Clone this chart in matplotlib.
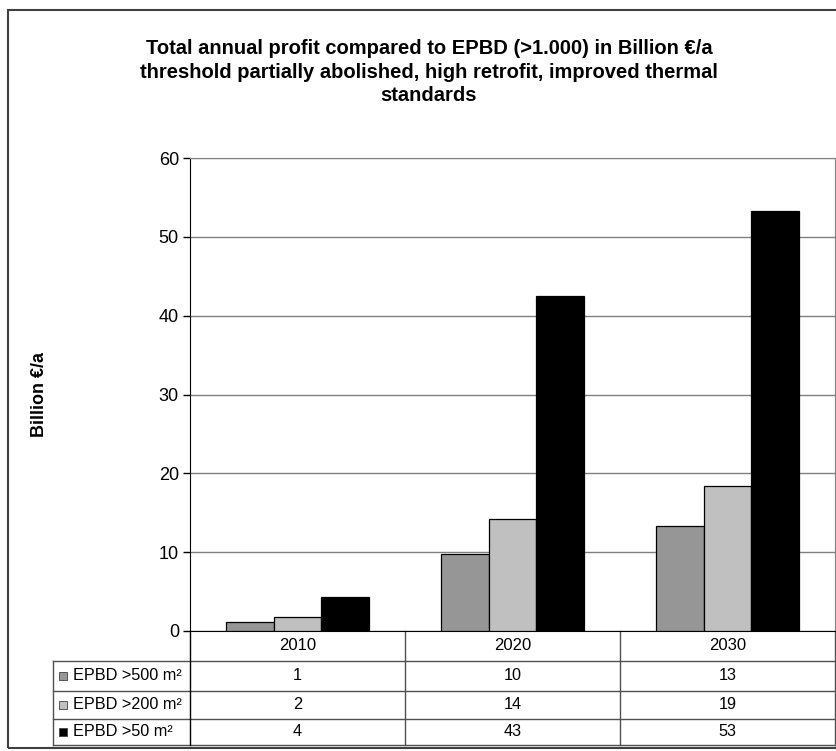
import matplotlib.pyplot as plt
from matplotlib.patches import Rectangle
import numpy as np

# values
years = ["2010", "2020", "2030"]
series = ["EPBD >500 m²", "EPBD >200 m²", "EPBD >50 m²"]
profit_500 = [1.1, 9.8, 13.3]
profit_200 = [1.8, 14.2, 18.4]
profit_50 = [4.3, 42.5, 53.3]
table_500 = [1, 10, 13]
table_200 = [2, 14, 19]
table_50 = [4, 43, 53]
colors = ["#969696", "#c0c0c0", "#000000"]

plt.rcParams["font.family"] = ["Liberation Sans", "DejaVu Sans"]

fig = plt.figure(figsize=(8.37, 7.51), dpi=100)
ax = fig.add_axes([0.227, 0.1598, 0.7706, 0.6298])

# outer frame
fig.add_artist(Rectangle((8 / 837, 3 / 751), 1.0, 738 / 751,
                         transform=fig.transFigure, fill=False,
                         ec="#404040", lw=1.5))

x = np.arange(len(years))
w = 0.223
for i, (vals, c) in enumerate(zip([profit_500, profit_200, profit_50], colors)):
    ax.bar(x + (i - 1) * w, vals, w, color=c, edgecolor="black", lw=0.9,
           zorder=3)

ax.set_xlim(-0.5, 2.5)
ax.set_ylim(0, 60)
ax.set_yticks(range(0, 61, 10))
ax.set_xticks([])
ax.yaxis.grid(True, color="#808080", lw=1)
ax.set_axisbelow(True)
ax.tick_params(axis="y", direction="out", length=5, width=1, labelsize=13,
               pad=3)
for s in ["top", "right"]:
    ax.spines[s].set_color("#808080")
ax.spines["left"].set_color("black")
ax.spines["bottom"].set_color("black")

fig.text(0.5125, 1 - 72 / 751,
         "Total annual profit compared to EPBD (>1.000) in Billion €/a\n"
         "threshold partially abolished, high retrofit, improved thermal\n"
         "standards",
         ha="center", va="center", fontsize=14.5, fontweight="bold",
         linespacing=1.3)
fig.text(40 / 837, 1 - 394 / 751, "Billion €/a", rotation=90, ha="center",
         va="center", fontsize=13, fontweight="bold")

# data table below the axis
label_left = -0.2124
row_edges = [0, -0.0634, -0.126, -0.1855, -0.2404]
col_edges = np.linspace(0, 1, len(years) + 1)
line_c = "#505050"
kw = dict(transform=ax.transAxes, clip_on=False, color=line_c, lw=1)

for y in row_edges[1:]:
    ax.plot([label_left, 1], [y, y], **kw)
ax.plot([label_left, label_left], [row_edges[1], row_edges[-1]], **kw)
ax.plot([0, 0], [0, row_edges[-1]], transform=ax.transAxes, clip_on=False,
        color="black", lw=1)
for cx in col_edges[1:]:
    ax.plot([cx, cx], [0, row_edges[-1]], **kw)

centers = (col_edges[:-1] + col_edges[1:]) / 2
hy = (row_edges[0] + row_edges[1]) / 2
for cx, yr in zip(centers, years):
    ax.text(cx, hy, yr, transform=ax.transAxes, ha="center", va="center",
            fontsize=12)

rows = [table_500, table_200, table_50]
for r, (name, vals, c) in enumerate(zip(series, rows, colors)):
    ry = (row_edges[r + 1] + row_edges[r + 2]) / 2
    sq_h = 8 / 473
    ax.add_patch(Rectangle((-0.2031, ry - sq_h / 2), 0.0124, sq_h,
                           transform=ax.transAxes, clip_on=False,
                           facecolor=c, edgecolor="#404040", lw=0.6))
    ax.text(-0.1814, ry, name, transform=ax.transAxes, ha="left",
            va="center", fontsize=11.7)
    for cx, v in zip(centers, vals):
        ax.text(cx, ry, str(v), transform=ax.transAxes, ha="center",
                va="center", fontsize=11.7)

fig.savefig("out.png", dpi=100)
